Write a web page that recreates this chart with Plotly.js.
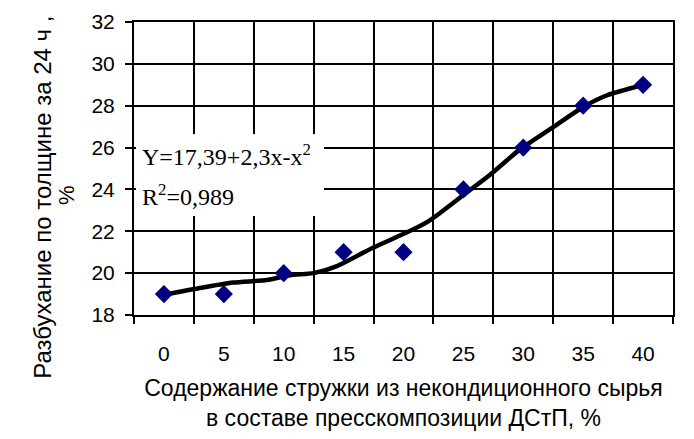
<!DOCTYPE html>
<html>
<head>
<meta charset="utf-8">
<script src="https://cdn.plot.ly/plotly-3.0.1.min.js"></script>
<style>html,body{margin:0;padding:0;background:#fff;}#chart{width:694px;height:439px;}</style>
</head>
<body>
<div id="chart"></div>
<script>
// Data
const contentPct = [0, 5, 10, 15, 20, 25, 30, 35, 40];
const swelling = [19, 19, 20, 21, 21, 24, 26, 28, 29];
// Trend line as drawn in the reference
const trendX = [0, 3, 5.8, 8.6, 10.5, 12.5, 14.5, 17.4, 20.3, 22, 23, 25, 27.2, 29.7, 32.5, 35, 37, 40];
const trendY = [18.96, 19.29, 19.55, 19.67, 19.9, 20.0, 20.35, 21.2, 21.95, 22.45, 22.85, 23.73, 24.69, 25.9, 26.98, 27.94, 28.5, 28.99];
const xTickLabels = contentPct.map(String);
const yTicks = [18, 20, 22, 24, 26, 28, 30, 32];

const sans = '"Liberation Sans", Arial, sans-serif';
const serif = '"Liberation Serif", "Times New Roman", serif';

const traces = [
  {
    x: trendX, y: trendY, type: 'scatter', mode: 'lines',
    line: {color: '#000000', width: 4.5, shape: 'spline', smoothing: 0.6},
    hoverinfo: 'skip', showlegend: false
  },
  {
    x: contentPct, y: swelling, type: 'scatter', mode: 'markers',
    marker: {symbol: 'diamond', size: 14, color: '#000080'},
    showlegend: false
  }
];

const layout = {
  width: 694, height: 439,
  margin: {l: 134, r: 21, t: 22, b: 124},
  paper_bgcolor: '#ffffff', plot_bgcolor: '#ffffff',
  font: {family: sans, color: '#000000', size: 21},
  xaxis: {
    range: [-2.5, 42.5],
    tickvals: contentPct, ticktext: xTickLabels,
    ticks: '', showgrid: false, zeroline: false,
    showline: true, mirror: true, linecolor: '#000', linewidth: 2,
    tickfont: {family: sans, size: 21},
    ticklabelstandoff: 19,
    minor: {tick0: -2.5, dtick: 5, showgrid: true, gridcolor: '#000', gridwidth: 2,
            ticks: 'outside', ticklen: 7, tickwidth: 2, tickcolor: '#000'},
    title: {text: 'Содержание стружки из некондиционного сырья<br>в составе пресскомпозиции ДСтП, %',
            font: {family: sans, size: 23}, standoff: 16},
    automargin: false, fixedrange: true
  },
  yaxis: {
    range: [18, 32], tickvals: yTicks,
    ticks: 'outside', ticklen: 7, tickwidth: 2, tickcolor: '#000',
    showgrid: true, gridcolor: '#000', gridwidth: 2, zeroline: false,
    showline: true, mirror: true, linecolor: '#000', linewidth: 2,
    tickfont: {family: sans, size: 21},
    ticklabelstandoff: 6,
    automargin: false, fixedrange: true
  },
  annotations: [
    {xref: 'paper', yref: 'paper', x: -0.1688, y: 0.40, xanchor: 'center', yanchor: 'middle',
     text: 'Разбухание по толщине за 24 ч ,', textangle: -90, showarrow: false,
     font: {family: sans, size: 24}},
    {xref: 'paper', yref: 'paper', x: -0.1243, y: 0.4096, xanchor: 'center', yanchor: 'middle',
     text: '%', textangle: -90, showarrow: false, font: {family: sans, size: 22}},
    {xref: 'paper', yref: 'paper', x: 0.004, y: 0.338, xanchor: 'left', yanchor: 'bottom',
     text: ' ', width: 188, height: 82, bgcolor: '#ffffff', borderpad: 0, borderwidth: 0,
     showarrow: false},
    {xref: 'paper', yref: 'paper', x: 0.012, y: 0.546, xanchor: 'left', yanchor: 'middle',
     text: 'Y=17,39+2,3x-x<sup>2</sup>', showarrow: false, font: {family: serif, size: 24}},
    {xref: 'paper', yref: 'paper', x: 0.012, y: 0.41, xanchor: 'left', yanchor: 'middle',
     text: 'R<sup>2</sup>=0,989', showarrow: false, font: {family: serif, size: 24}}
  ]
};

Plotly.newPlot('chart', traces, layout, {displayModeBar: false, staticPlot: true});
</script>
</body>
</html>
